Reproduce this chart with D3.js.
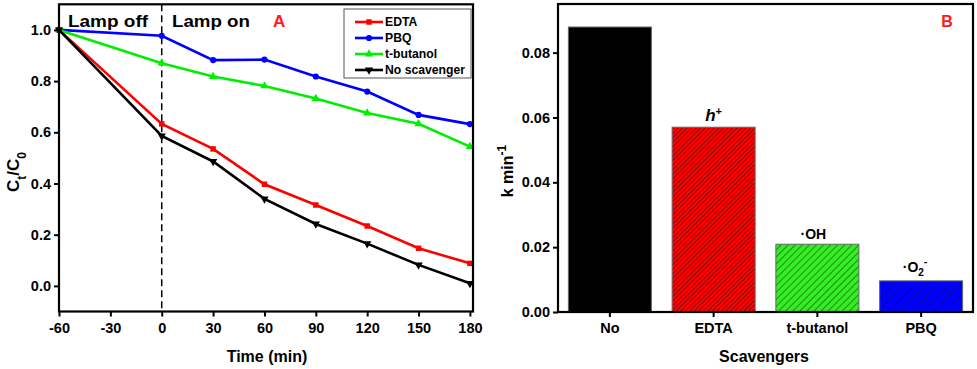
<!DOCTYPE html>
<html>
<head>
<meta charset="utf-8">
<script src="https://cdn.jsdelivr.net/npm/d3@7"></script>
<style>
  body { margin: 0; background: #fff; }
  svg { display: block; font-family: "Liberation Sans", Arial, sans-serif; font-weight: bold; }
</style>
</head>
<body>
<svg id="chart" width="977" height="369"></svg>
<script>
// panel A data
const times = [-60, 0, 30, 60, 90, 120, 150, 180]
const edta = [1.0, 0.633, 0.535, 0.397, 0.316, 0.234, 0.147, 0.088]
const pbq = [1.0, 0.977, 0.882, 0.884, 0.818, 0.759, 0.668, 0.632]
const tbutanol = [1.0, 0.870, 0.818, 0.781, 0.732, 0.675, 0.633, 0.544]
const noScav = [1.0, 0.586, 0.486, 0.340, 0.242, 0.165, 0.082, 0.010]
const xTicksA = [-60, -30, 0, 30, 60, 90, 120, 150, 180]
const yTicksA = [0, 0.2, 0.4, 0.6, 0.8, 1.0]

// panel B data
const scavengers = ['No', 'EDTA', 't-butanol', 'PBQ']
const kValues = [0.0879, 0.0570, 0.0209, 0.0096]
const yTicksB = [0, 0.02, 0.04, 0.06, 0.08]

const svg = d3.select('#chart')

// hatch patterns
const defs = svg.append('defs')
const hatch = (id, color, gap) => {
  const p = defs.append('pattern')
    .attr('id', id)
    .attr('patternUnits', 'userSpaceOnUse')
    .attr('width', gap).attr('height', gap)
    .attr('patternTransform', 'rotate(45)')
  p.append('rect').attr('width', gap).attr('height', gap).attr('fill', color)
  p.append('line')
    .attr('x1', 0).attr('y1', 0).attr('x2', 0).attr('y2', gap)
    .attr('stroke', '#111').attr('stroke-width', 0.9)
}
hatch('h-red', '#ff0000', 3.2)
hatch('h-green', '#33ee22', 5)
hatch('h-blue', '#0000ff', 8)

const styleAxis = a => {
  a.attr('font-family', null).attr('font-size', null)
  a.select('.domain').remove()
  a.selectAll('line').attr('stroke-width', 2)
  a.selectAll('text').style('font-size', '14.5px').style('font-weight', 'bold').attr('fill', '#000')
}

// ---------- panel A ----------
const xA = d3.scaleLinear().domain([-60, 181.8]).range([59, 473])
const yA = d3.scaleLinear().domain([-0.1, 1.1]).range([311.5, 4.3])

const gA = svg.append('g')

// dashed lamp line
gA.append('line')
  .attr('x1', xA(0)).attr('x2', xA(0))
  .attr('y1', yA(1.1)).attr('y2', yA(-0.1))
  .attr('stroke', '#000').attr('stroke-width', 1.5)
  .attr('stroke-dasharray', '7,4')

const series = [
  { name: 'EDTA', values: edta, color: '#ff0000', symbol: d3.symbolSquare, rot: 0 },
  { name: 'PBQ', values: pbq, color: '#0000ff', symbol: d3.symbolCircle, rot: 0 },
  { name: 't-butanol', values: tbutanol, color: '#00ee00', symbol: d3.symbolTriangle, rot: 0 },
  { name: 'No scavenger', values: noScav, color: '#000000', symbol: d3.symbolTriangle, rot: 180 }
]

const line = d3.line()
  .x((d, i) => xA(times[i]))
  .y(d => yA(d))

series.forEach(s => {
  gA.append('path')
    .datum(s.values)
    .attr('d', line)
    .style('fill', 'none')
    .style('stroke', s.color)
    .style('stroke-width', 2.6)
  gA.selectAll(null)
    .data(s.values)
    .enter()
    .append('path')
    .attr('d', d3.symbol().type(s.symbol).size(30))
    .attr('transform', (d, i) => `translate(${xA(times[i])},${yA(d)}) rotate(${s.rot})`)
    .style('fill', s.color)
})

// axes
const axA_x = gA.append('g')
  .attr('transform', `translate(0,${yA(-0.1)})`)
  .call(d3.axisBottom(xA).tickValues(xTicksA).tickSize(5).tickPadding(6).tickFormat(d => String(d)))
const axA_y = gA.append('g')
  .attr('transform', `translate(${xA(-60)},0)`)
  .call(d3.axisLeft(yA).tickValues(yTicksA).tickSize(5).tickPadding(3).tickFormat(d3.format('.1f')))
styleAxis(axA_x)
styleAxis(axA_y)

gA.append('rect')
  .attr('x', xA(-60)).attr('y', yA(1.1))
  .attr('width', xA(181.8) - xA(-60)).attr('height', yA(-0.1) - yA(1.1))
  .attr('fill', 'none').attr('stroke', '#000').attr('stroke-width', 2.2)

// annotations
gA.append('text').attr('x', 68).attr('y', 27).text('Lamp off').style('font-size', '16px')
  .attr('textLength', 80).attr('lengthAdjust', 'spacingAndGlyphs')
gA.append('text').attr('x', 172).attr('y', 27).text('Lamp on').style('font-size', '16px')
  .attr('textLength', 78).attr('lengthAdjust', 'spacingAndGlyphs')
gA.append('text').attr('x', 273).attr('y', 27).text('A').style('font-size', '17px').attr('fill', '#ff1a1a')

// legend
const leg = gA.append('g')
leg.append('rect')
  .attr('x', 344).attr('y', 9).attr('width', 127).attr('height', 69)
  .attr('fill', '#fff').attr('stroke', '#555').attr('stroke-width', 1)
series.forEach((s, i) => {
  const ly = 22 + i * 16
  leg.append('line')
    .attr('x1', 355).attr('x2', 383).attr('y1', ly).attr('y2', ly)
    .attr('stroke', s.color).attr('stroke-width', 2.6)
  leg.append('path')
    .attr('d', d3.symbol().type(s.symbol).size(30))
    .attr('transform', `translate(369,${ly}) rotate(${s.rot})`)
    .style('fill', s.color)
  leg.append('text')
    .attr('x', 385).attr('y', ly).attr('dy', '0.35em')
    .text(s.name).style('font-size', '12.2px')
})

// axis titles
gA.append('text')
  .attr('x', 267).attr('y', 362)
  .attr('text-anchor', 'middle').style('font-size', '16px')
  .text('Time (min)')
const ytA = gA.append('text')
  .attr('transform', 'translate(19,172) rotate(-90)')
  .attr('text-anchor', 'middle').style('font-size', '17px')
ytA.append('tspan').text('C')
ytA.append('tspan').text('t').attr('baseline-shift', 'sub').style('font-size', '12px')
ytA.append('tspan').text('/C')
ytA.append('tspan').text('0').attr('baseline-shift', 'sub').style('font-size', '12px')

// ---------- panel B ----------
const xB = d3.scaleBand().domain(scavengers).range([558, 973]).paddingInner(0.2).paddingOuter(0.1)
const yB = d3.scaleLinear().domain([0, 0.095]).range([312, 4])
const fills = ['#000000', 'url(#h-red)', 'url(#h-green)', 'url(#h-blue)']

const gB = svg.append('g')
gB.selectAll('rect.bar')
  .data(kValues)
  .enter()
  .append('rect')
  .attr('class', 'bar')
  .attr('x', (d, i) => xB(scavengers[i]))
  .attr('y', d => yB(d))
  .attr('width', xB.bandwidth())
  .attr('height', d => yB(0) - yB(d))
  .attr('fill', (d, i) => fills[i])
  .attr('stroke', '#666').attr('stroke-width', 1)

const axB_x = gB.append('g')
  .attr('transform', `translate(0,${yB(0)})`)
  .call(d3.axisBottom(xB).tickSize(5).tickPadding(6))
const axB_y = gB.append('g')
  .attr('transform', `translate(558,0)`)
  .call(d3.axisLeft(yB).tickValues(yTicksB).tickSize(5).tickPadding(3).tickFormat(d3.format('.2f')))
styleAxis(axB_x)
styleAxis(axB_y)

gB.append('rect')
  .attr('x', 558).attr('y', 4).attr('width', 415).attr('height', 308)
  .attr('fill', 'none').attr('stroke', '#000').attr('stroke-width', 2.2)

// species labels
const cx = c => xB(c) + xB.bandwidth() / 2
const hl = gB.append('text')
  .attr('x', cx('EDTA')).attr('y', yB(kValues[1]) - 6)
  .attr('text-anchor', 'middle').style('font-size', '17px').style('font-style', 'italic')
hl.append('tspan').text('h')
hl.append('tspan').text('+').attr('baseline-shift', 'super').style('font-size', '11px').style('font-style', 'normal')

gB.append('text')
  .attr('x', cx('t-butanol') - 4).attr('y', yB(kValues[2]) - 5)
  .attr('text-anchor', 'middle').style('font-size', '14px')
  .text('·OH')

const ol = gB.append('text')
  .attr('x', cx('PBQ') - 6).attr('y', yB(kValues[3]) - 9)
  .attr('text-anchor', 'middle').style('font-size', '14px')
ol.append('tspan').text('·O')
ol.append('tspan').text('2').attr('dy', '4').style('font-size', '10px')
ol.append('tspan').text('-').attr('dy', '-11').style('font-size', '11px')

gB.append('text').attr('x', 947).attr('y', 27).attr('text-anchor', 'middle')
  .text('B').style('font-size', '16px').attr('fill', '#ff1a1a')

gB.append('text')
  .attr('x', 764).attr('y', 362).attr('text-anchor', 'middle')
  .style('font-size', '16px').text('Scavengers')

const ytB = gB.append('text')
  .attr('transform', 'translate(513,171) rotate(-90)')
  .attr('text-anchor', 'middle').style('font-size', '16px')
ytB.append('tspan').text('k min')
ytB.append('tspan').text('-1').attr('baseline-shift', 'super').style('font-size', '12px')
</script>
</body>
</html>
